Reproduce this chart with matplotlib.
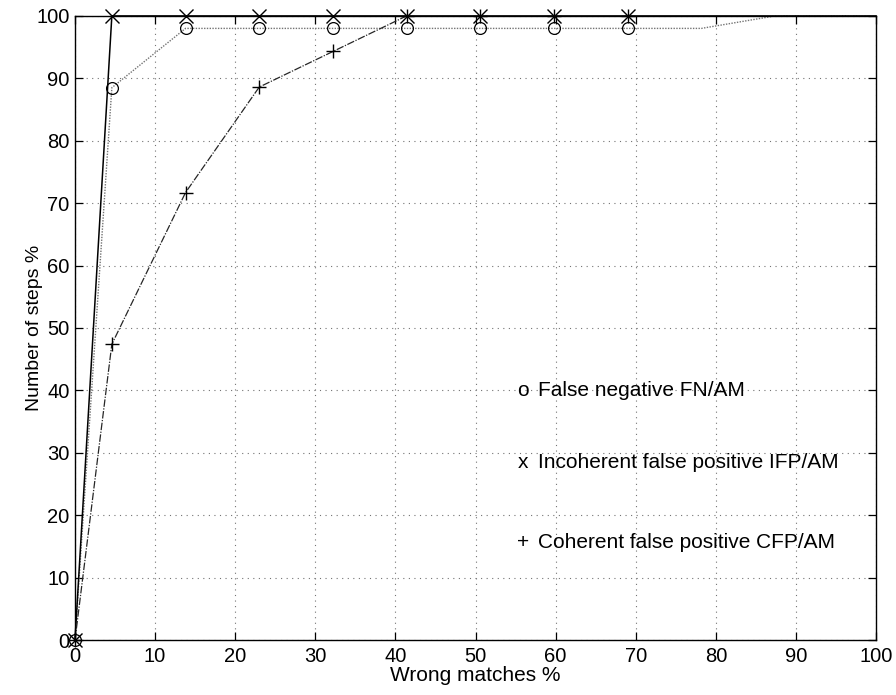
import numpy as np
import matplotlib
matplotlib.use("Agg")
import matplotlib.pyplot as plt

plt.rcParams['font.family'] = ['Liberation Sans', 'DejaVu Sans']

# ---- data ----
x_marks = [0, 4.6, 13.8, 23.0, 32.2, 41.4, 50.6, 59.8, 69.0]

# false negative: markers at x_marks, line keeps going past the last marker
fn_y = [0, 88.5, 98, 98, 98, 98, 98, 98, 98]
fn_tail_x = [78.2, 87.4, 100]
fn_tail_y = [98, 100, 100]

# incoherent false positive
ifp_y = [0, 100, 100, 100, 100, 100, 100, 100, 100]
ifp_tail_x = [100]
ifp_tail_y = [100]

# coherent false positive
cfp_y = [0, 47.4, 71.7, 88.6, 94.3, 100, 100, 100, 100]
cfp_tail_x = [100]
cfp_tail_y = [100]

legend_marks = ['o', 'x', '+']
legend_labels = ['False negative FN/AM',
                 'Incoherent false positive IFP/AM',
                 'Coherent false positive CFP/AM']

x_ticks = np.arange(0, 101, 10)
y_ticks = np.arange(0, 101, 10)

# ---- figure ----
fig = plt.figure(figsize=(8.96, 6.95), dpi=100)
ax = fig.add_axes([0.0837, 0.0791, 0.894, 0.898])

# lines (including the tails without markers)
ax.plot(x_marks + fn_tail_x, fn_y + fn_tail_y, color='0.45',
        linestyle=(0, (1, 1)), linewidth=1.0, clip_on=False)
ax.plot(x_marks + ifp_tail_x, ifp_y + ifp_tail_y, color='black',
        linestyle='-', linewidth=1.1, clip_on=False)
ax.plot(x_marks + cfp_tail_x, cfp_y + cfp_tail_y, color='0.15',
        linestyle=(0, (6, 1.2, 1, 1.2)), linewidth=0.9, clip_on=False)

# markers
ax.plot(x_marks, fn_y, linestyle='none', marker='o', markersize=8.5,
        mfc='none', mec='black', mew=0.9, clip_on=False)
ax.plot(x_marks, ifp_y, linestyle='none', marker='x', markersize=9.5,
        mec='black', mew=1.0, clip_on=False)
ax.plot(x_marks, cfp_y, linestyle='none', marker='+', markersize=10.5,
        mec='black', mew=1.0, clip_on=False)

ax.set_xlim(0, 100)
ax.set_ylim(0, 100)
ax.set_xticks(x_ticks)
ax.set_yticks(y_ticks)
ax.tick_params(direction='in', length=6, width=0.9, top=True, right=True,
               labelsize=14.5, colors='black')
ax.tick_params(axis='x', pad=5)
ax.tick_params(axis='y', pad=4)

ax.grid(True, color='0.45', linestyle=(0, (1, 4)), linewidth=0.8)
for s in ax.spines.values():
    s.set_linewidth(1.0)
    s.set_color('black')

ax.set_xlabel('Wrong matches %', fontsize=15, labelpad=0)
ax.set_ylabel('Number of steps %', fontsize=14, labelpad=-5)

# legend drawn as plain text, like the original
leg_y = [40.0, 28.5, 15.7]
for m, lab, yy in zip(legend_marks, legend_labels, leg_y):
    ax.text(55.9, yy, m, fontsize=15, ha='center', va='center')
    ax.text(57.8, yy, lab, fontsize=15, ha='left', va='center')

fig.savefig('out.png', dpi=100)
